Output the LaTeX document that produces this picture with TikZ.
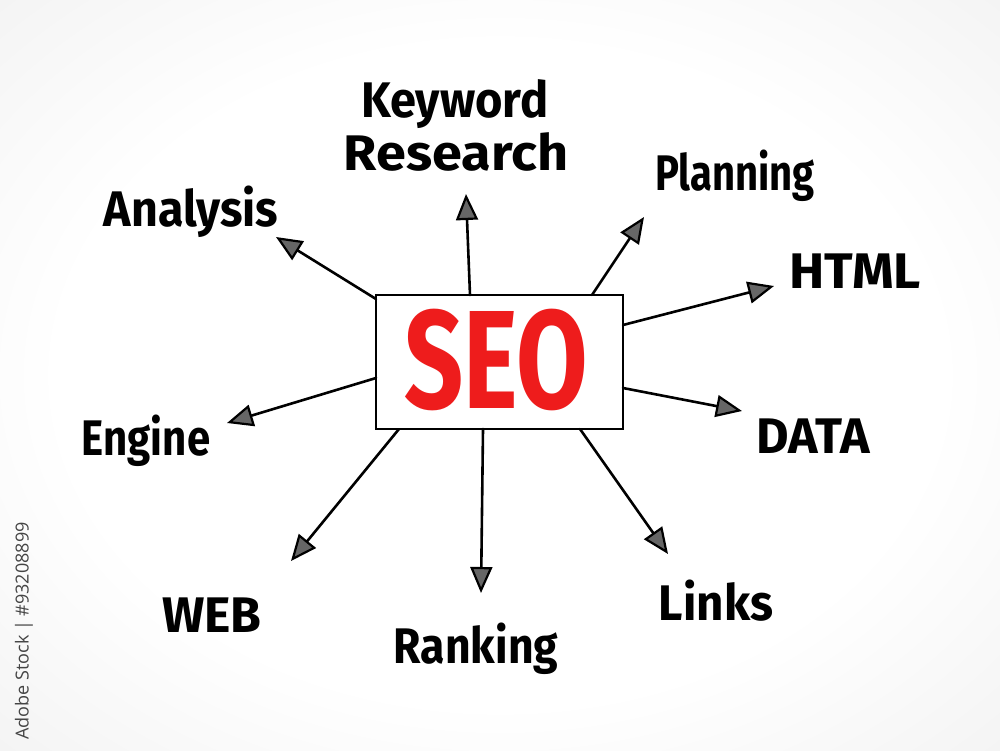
\documentclass[tikz,border=0pt]{standalone}
\usepackage{fontspec}
\setmainfont{Fira Sans}
\newfontfamily\wmfont{Open Sans}
\usetikzlibrary{arrows.meta}
\definecolor{seored}{HTML}{EE1C1C}
\definecolor{wmgray}{HTML}{444444}
\pgfdeclareradialshading{bgshade}{\pgfpoint{0bp}{0bp}}{%
  color(0bp)=(white); color(22bp)=(white); color(50bp)=(black!9); color(72bp)=(black!15)}
\tikzset{
  lbl/.style={anchor=base, font=\fontsize{50}{56}\selectfont\bfseries, text=black, inner sep=0pt},
  conn/.style={line width=2.6pt, line cap=round, black,
    -{Triangle[length=26pt,width=22pt,line width=2.2pt,fill=black!60]}},
  seobox/.style={draw=black, line width=2.6pt, fill=white, minimum width=247pt, minimum height=134pt, inner sep=0pt}
}
\begin{document}
\begin{tikzpicture}[x=1pt,y=-1pt]
\useasboundingbox (0,0) rectangle (1000,750);
\shade[shading=bgshade] (0,0) rectangle (1000,750);
% central box
\node[seobox] (seo) at (499.5,362) {};
\node[text=seored, inner sep=0pt, font=\fontsize{140}{150}\selectfont\bfseries] (seotxt) at (496,360) {\scalebox{0.74}[1]{SEO}};
% start coordinates on box edge
\coordinate (sKR) at (470,295);
\coordinate (sPl) at (592,295);
\coordinate (sHT) at (623,325);
\coordinate (sDA) at (623,388);
\coordinate (sLi) at (580,429);
\coordinate (sRa) at (483,429);
\coordinate (sWE) at (399,429);
\coordinate (sEn) at (376,378);
\coordinate (sAn) at (376,299);
% tips
\coordinate (tKR) at (466,194);
\coordinate (tPl) at (644,217);
\coordinate (tHT) at (774,286);
\coordinate (tDA) at (742,411);
\coordinate (tLi) at (668,554);
\coordinate (tRa) at (481,593);
\coordinate (tWE) at (291,561);
\coordinate (tEn) at (227,423);
\coordinate (tAn) at (276,237);
\foreach \a in {KR,Pl,HT,DA,Li,Ra,WE,En,An} { \draw[conn] (s\a) -- (t\a); }
% labels
\node[lbl] (kw) at (455,117) {\scalebox{0.94}[1]{Keyword}};
\node[lbl] (rs) at (456,170) {\scalebox{1.08}[1]{Research}};
\node[lbl] (pl) at (735,190) {\scalebox{0.8}[1]{Planning}};
\node[lbl] (ht) at (855,288) {\scalebox{1.06}[1]{HTML}};
\node[lbl] (da) at (813,453) {\scalebox{1.0}[1]{DATA}};
\node[lbl] (li) at (716,620) {\scalebox{0.95}[1]{Links}};
\node[lbl] (ra) at (476,663) {\scalebox{0.89}[1]{Ranking}};
\node[lbl] (we) at (212,632) {\scalebox{1.0}[1]{WEB}};
\node[lbl] (en) at (146,455) {\scalebox{0.84}[1]{Engine}};
\node[lbl] (an) at (191,226) {\scalebox{0.93}[1]{Analysis}};
% watermark id
\node[rotate=90, text=wmgray, inner sep=0pt, font=\wmfont\fontsize{18}{20}\selectfont] (wm) at (24,631) {Adobe Stock | \#93208899};
\end{tikzpicture}
\end{document}
